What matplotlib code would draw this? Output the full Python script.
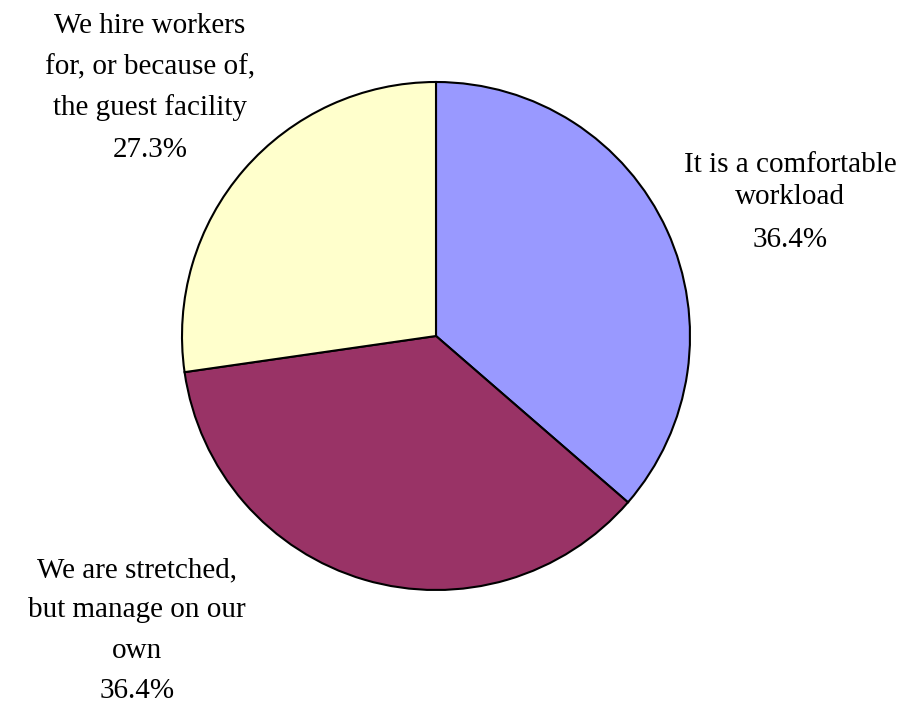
import matplotlib
matplotlib.use("Agg")
import matplotlib.pyplot as plt

# Data
categories = ["It is a comfortable workload",
              "We are stretched, but manage on our own",
              "We hire workers for, or because of, the guest facility"]
values = [36.4, 36.4, 27.3]
label_lines = [["It is a comfortable", "workload"],
               ["We are stretched,", "but manage on our", "own"],
               ["We hire workers", "for, or because of,", "the guest facility"]]
colors = ["#9999FF", "#993366", "#FFFFCC"]

W, H = 904, 706
fig = plt.figure(figsize=(W / 100, H / 100), dpi=100)
ax = fig.add_axes([0, 0, 1, 1])

cx, cy, r = 436, H - 336, 254
ax.pie(values, colors=colors, startangle=90, counterclock=False,
       center=(cx, cy), radius=r,
       wedgeprops=dict(edgecolor="black", linewidth=1.5))
ax.set_xlim(0, W)
ax.set_ylim(0, H)
ax.set_aspect("equal")
ax.axis("off")

# label layout: center x and baselines (pixels from top) for each line
layout = [
    (790, [172, 204, 247]),
    (137, [577, 617, 658, 698]),
    (150, [33, 74, 115, 157]),
]
for lines, val, (x, ys) in zip(label_lines, values, layout):
    texts = lines + [f"{val:.1f}%"]
    for t, y in zip(texts, ys):
        ax.text(x, H - y, t, ha="center", va="baseline",
                fontsize=21, family="Liberation Serif", color="black")

fig.savefig("out.png", dpi=100)
